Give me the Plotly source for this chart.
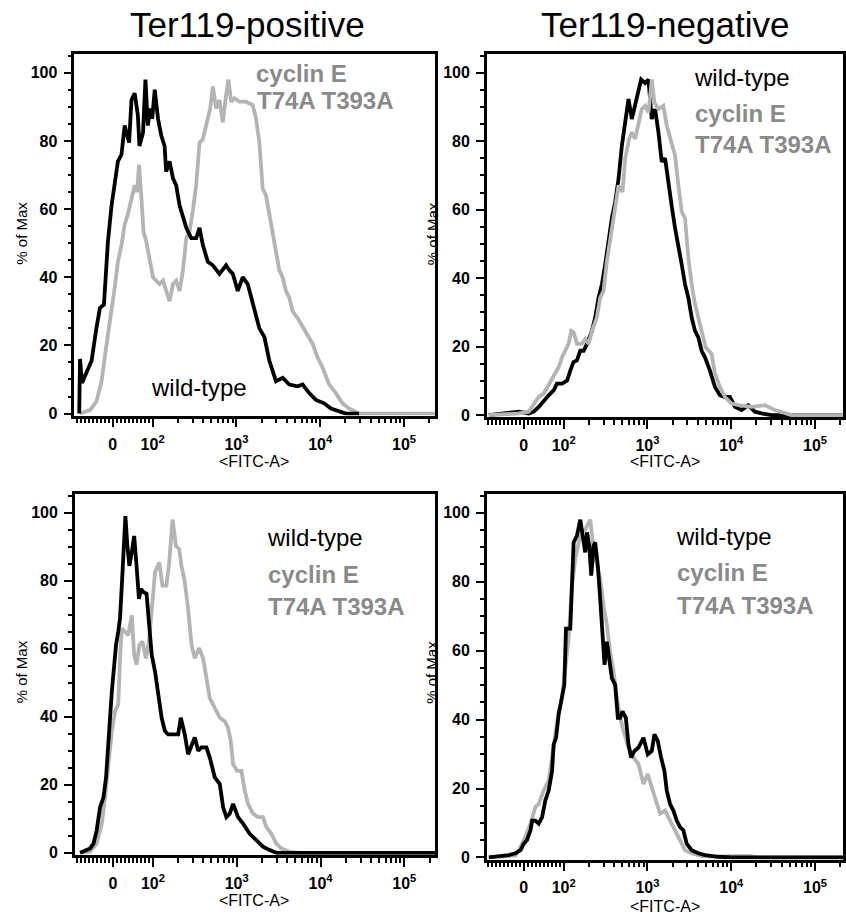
import numpy as np
import plotly.graph_objects as go

# ---------------- data (FITC-A intensity, % of Max) ----------------
# Ter119-positive, top row
tl_wt_x = [-84, -82, -77, -64, -53, -41, -32, -22, -16, -12, -3, 5, 13, 22, 30, 41, 47, 55, 63, 67,
           76, 82, 88, 94, 99, 106, 116, 127, 139, 145, 159, 175, 191, 210, 230, 252, 289, 331, 363, 397,
           456, 523, 628, 753, 825, 905, 1037, 1190, 1364, 1565, 1878, 2154, 2471, 2967, 3560, 4276, 5374, 6160, 7396, 8880,
           11160, 13400, 16840, 20200, 29000]
tl_wt_y = [0, 16, 9, 12.5, 15.5, 25, 31, 32, 45.5, 50.5, 61, 67, 74, 76, 84.5, 79.5, 92, 94, 87.5, 78.5,
           82.5, 98, 84.5, 89.5, 86.5, 95, 86.5, 81.5, 78.5, 71, 74, 69, 67, 61, 58, 54.5, 51.5, 51.5, 54.5, 49.5,
           44.5, 43.5, 41, 43.5, 42, 41, 36, 40, 38, 32, 25, 22.5, 15.5, 9.5, 10.5, 8.5, 8, 8.5, 6, 4,
           3, 1.5, 0.5, 0, 0]
tl_ce_x = [-82, -57, -41, -28, -20, -12, -3, 5, 13, 22, 30, 38, 47, 55, 61, 66, 72, 77, 84, 92,
           101, 110, 121, 133, 145, 159, 175, 191, 210, 230, 252, 276, 302, 331, 363, 397, 435, 486, 523, 573,
           628, 688, 753, 803, 864, 947, 1086, 1303, 1565, 1714, 1878, 2058, 2255, 2471, 2707, 2967, 3250, 3560, 3900, 4276,
           4684, 5374, 6160, 7060, 8100, 9290, 10660, 12800, 15360, 18450, 22100, 29100, 240000]
tl_ce_y = [0, 1, 3.5, 9.5, 16.5, 22.5, 30, 37, 44.5, 49.5, 55.5, 58.5, 63, 67, 65, 73, 63, 53.5, 50.5, 45.5,
           40, 39, 38, 39, 36, 33, 38, 39, 36, 42, 51.5, 53.5, 59.5, 67, 79.5, 80.5, 84.5, 89.5, 96, 89.5,
           92, 85.5, 93.5, 98, 91.5, 92.5, 91.5, 91.5, 90.5, 86.5, 79.5, 66, 64, 58.5, 53.5, 47.5, 42, 40, 36, 34,
           30, 28, 25.5, 23.5, 20.5, 16.5, 13.5, 8.5, 6, 3, 1.5, 0, 0]

# Ter119-negative, top row
tr_wt_x = [-87.5, -12.5, 12.5, 25, 37.5, 50, 62.5, 75, 83, 96, 110, 120, 131, 144, 158, 173, 190, 217, 238, 261,
           286, 313, 343, 376, 412, 452, 495, 542, 594, 651, 713, 781, 841, 938, 1028, 1126, 1234, 1352, 1481, 1623,
           1778, 1949, 2135, 2339, 2563, 2808, 3077, 3371, 3694, 4047, 4435, 4859, 5570, 6391, 7328, 8409, 9646, 11060, 13280, 15930,
           19130, 22960, 30200, 240000]
tr_wt_y = [0, 1, 0.5, 1, 2.4, 4.3, 5.8, 7.2, 9.2, 9.2, 10.1, 13, 15.5, 16, 18.8, 18.8, 20.8, 24.6, 28.5, 34.3,
           38.2, 44, 51.7, 57.5, 62.3, 69, 78.7, 85.5, 92.3, 86.5, 90.3, 94.2, 98, 97, 98, 86.5, 89.4, 82.6, 74, 75,
           67, 61, 54.6, 49.8, 44, 38.2, 34.3, 28.5, 24.6, 22.7, 18.8, 16.9, 13, 8.2, 5.8, 5.3, 5.3, 2.4, 1.5, 2.9,
           1, 0.5, 0, 0]
tr_ce_x = [-87.5, -12.5, 12.5, 25, 37.5, 50, 62.5, 75, 87.5, 96, 104.7, 114.7, 123, 131.5, 144, 165, 181, 198.5, 217.5, 249,
           273, 299, 328, 359, 394, 452, 504, 542, 605, 651, 713, 781, 856, 938, 1028, 1126, 1211, 1352, 1549, 1700,
           1949, 2135, 2339, 2563, 2808, 3077, 3371, 3694, 4047, 4435, 4945, 5833, 6391, 7328, 8409, 10090, 12120, 17460, 25160, 33110,
           43550, 52270, 240000]
tr_ce_y = [0, 0.5, 1, 3.4, 5.3, 6.3, 8.7, 11.1, 14, 16.9, 18.8, 20.8, 24.6, 24.2, 20.8, 20.8, 22.2, 20.8, 24.6, 28.5,
           34.3, 36.2, 44.9, 51.7, 58.5, 67.1, 65.2, 74.9, 80.7, 82.6, 80.7, 84.5, 89.4, 90.3, 88.4, 98, 91.3, 89.4, 90.3, 84.5,
           79.7, 75.8, 67.1, 59.4, 57.5, 45.9, 38.2, 32.4, 28.5, 24.6, 19.8, 17.9, 12.1, 8.2, 5.3, 3.4, 2.9, 2.4, 2.9, 1.5,
           0.5, 0, 0]

# Ter119-positive, bottom row
bl_wt_x = [-82.5, -70, -57.5, -49, -41, -32.5, -24, -17.5, -12, -7.5, -3, 1, 7.5, 13, 17.5, 22, 27.5, 31, 36, 41,
           47, 53, 59, 65, 70, 76, 84, 90, 97, 106, 116, 127, 139, 152, 175, 200, 215, 240, 263, 289,
           316, 347, 380, 435, 477, 547, 628, 688, 753, 825, 905, 1037, 1190, 1428, 1714, 2058, 2471, 2967, 240000]
bl_wt_y = [0, 0.8, 1.3, 2.7, 6.6, 13.4, 16.3, 22.2, 33.9, 39.7, 47.5, 53.3, 61.1, 65, 68.9, 78.6, 89.3, 99, 90.3, 84.4,
           88.3, 93.2, 84.4, 74.7, 77.6, 76.7, 76.2, 68.9, 58.2, 53.3, 46.5, 39.7, 35.8, 34.8, 34.8, 34.8, 39.7, 34.8, 29, 31.9,
           33.9, 30, 31, 31, 28, 22.2, 20.2, 13.4, 10.5, 11.5, 14.4, 10.5, 8.6, 5.6, 3.7, 1.8, 0.8, 0, 0]
bl_ce_x = [-82.5, -57.5, -41, -28, -20, -12, -3, 5, 13, 17.5, 22, 30, 38, 47, 53, 59, 66, 74, 82.5, 90,
           97, 106, 119, 130, 145, 156.5, 171.5, 188, 206, 219, 240, 263, 289, 316, 356, 397, 435, 477, 547, 628,
           720, 788, 848, 905, 1009, 1137, 1245, 1364, 1565, 1795, 2058, 2255, 2587, 2967, 3401, 4276, 5623, 240000]
bl_ce_y = [0, 0.3, 2.7, 8.6, 16.3, 26.1, 35.8, 41.6, 43.6, 57.2, 66, 65, 64, 69.8, 58.2, 55.3, 61.1, 62.1, 57.2, 62.1,
           71.8, 82.5, 85.4, 78.6, 78.6, 85.4, 98, 90.3, 89.3, 84.4, 79.6, 71.8, 61.1, 57.2, 60.2, 57.2, 51.4, 45.5, 42.6, 39.7,
           38.7, 36.8, 32.9, 26.1, 24.1, 24.1, 18.3, 14.4, 11.5, 10.5, 10.5, 7.6, 5.6, 2.7, 1.3, 0.3, 0, 0]

# Ter119-negative, bottom row
br_wt_x = [-87.5, -50, -37.5, -21, -8, 0, 8, 17, 21, 29, 37.5, 46, 54, 62.5, 71, 75, 81, 87.5, 96, 101.8,
           106.6, 120, 131.5, 144, 158, 168.4, 181, 190, 202, 213.5, 227.6, 238, 256, 273, 286, 307.6, 328, 349.8, 376, 412,
           443.5, 472.8, 504, 552, 594, 639, 700, 781, 896, 1009, 1126, 1211, 1327, 1455, 1594, 1700, 1862, 2040, 2235, 2448,
           2683, 2940, 3371, 4047, 4859, 7000, 10090, 240000]
br_wt_y = [0, 0.4, 0.7, 1.2, 2.1, 4, 5, 7.9, 10.7, 10.7, 9.8, 11.7, 16.5, 19.4, 25.1, 32.8, 34.7, 41.5, 46.3, 50.1,
           66.4, 66.4, 91.4, 93.3, 98, 93.3, 88.5, 94.3, 90.4, 81.8, 90.4, 91.4, 84.6, 75, 68.3, 55.9, 62.6, 56.8, 52, 50.1,
           40.5, 40.5, 42.4, 40.5, 32.8, 29, 30.9, 31.9, 34.7, 29.9, 30.9, 35.7, 33.8, 29, 25.1, 19.4, 15.5, 13.6, 10.7, 8.8,
           7.9, 4, 2.1, 1.2, 0.7, 0.2, 0, 0]
br_ce_x = [-87.5, -21, -8, 4, 17, 29, 37.5, 50, 62.5, 71, 79, 87.5, 96, 104.7, 114.7, 125.6, 137.7, 151, 165, 181,
           198.5, 207.8, 227.6, 249, 273, 299, 328, 359, 394, 431.5, 472.8, 518, 594, 681, 781, 896, 1009, 1126, 1257, 1415,
           1623, 1862, 2135, 2448, 2808, 3371, 4435, 7000, 10090, 17460, 20950, 240000]
br_ce_y = [0, 0.6, 3.1, 6, 9.8, 14.6, 15.5, 19.4, 22.3, 29, 34.7, 42.4, 46.3, 55.9, 63.5, 78.9, 86.6, 91.4, 94.2, 95.2,
           97.1, 98, 89.4, 85.6, 80.8, 73.1, 67.4, 59.7, 53.9, 46.3, 40.5, 36.7, 31.9, 29, 27.1, 21.3, 24.2, 20.3, 16.5, 12.7,
           13.6, 10.7, 7.9, 5, 2.1, 1.2, 0.4, 0.2, 0.4, 0.4, 0, 0]

column_titles = ["Ter119-positive", "Ter119-negative"]
series_names = ["wild-type", "cyclin E<br>T74A T393A"]
x_major_vals = [0, 100, 1000, 10000, 100000]
x_major_text = ["0", "10<sup>2</sup>", "10<sup>3</sup>", "10<sup>4</sup>", "10<sup>5</sup>"]
x_minor_vals = [-90, -80, -70, -60, -50, -40, -30, -20, -10, 10, 20, 30, 40, 50, 60, 70, 80, 90,
                200, 300, 400, 500, 600, 700, 800, 900, 2000, 3000, 4000, 5000, 6000, 7000, 8000, 9000,
                20000, 30000, 40000, 50000, 60000, 70000, 80000, 90000, 200000]
y_major_vals = [0, 20, 40, 60, 80, 100]
y_major_text = ["0", "20", "40", "60", "80", "100"]


# biexponential-style display transform: linear near zero, logarithmic above 100
def disp(v):
    v = np.asarray(v, dtype=float)
    return np.where(v < 100, v * 0.00476, 0.476 + np.log10(np.clip(v, 100, None) / 100))


W, H = 846, 924
BLACK = "#000000"
GREY_LINE = "#b4b4b4"
GREY_TEXT = "#8a8a8a"
FONT = "Liberation Sans, Arial, Helvetica, sans-serif"
PXU = 84.0  # px per display unit on x

# panel geometry in pixels: left, right, x-zero px, y-zero px, y-100 px, top
panels = [
    dict(n="", l=74.5, r=436, x0=113, y0=416.7, y100=73.3, top=54),
    dict(n="2", l=488, r=845, x0=525, y0=418.3, y100=73.3, top=54),
    dict(n="3", l=75, r=436, x0=113.3, y0=859.3, y100=516.7, top=497.3),
    dict(n="4", l=488, r=845, x0=525, y0=864, y100=516.7, top=497.3),
]
curves = [
    (tl_wt_x, tl_wt_y, tl_ce_x, tl_ce_y, "black_top"),
    (tr_wt_x, tr_wt_y, tr_ce_x, tr_ce_y, "grey_top"),
    (bl_wt_x, bl_wt_y, bl_ce_x, bl_ce_y, "black_top"),
    (br_wt_x, br_wt_y, br_ce_x, br_ce_y, "black_top"),
]

bold = lambda s: "<b>" + s + "</b>"

fig = go.Figure()
layout = {}
for p, (wx, wy, cx, cy, order) in zip(panels, curves):
    xa = "x" + p["n"]
    ya = "y" + p["n"]
    wt = go.Scatter(x=disp(wx), y=wy, mode="lines", line=dict(color=BLACK, width=3.8),
                    xaxis=xa, yaxis=ya, showlegend=False, hoverinfo="skip")
    ce = go.Scatter(x=disp(cx), y=cy, mode="lines", line=dict(color=GREY_LINE, width=3.8),
                    xaxis=xa, yaxis=ya, showlegend=False, hoverinfo="skip")
    if order == "black_top":
        fig.add_trace(ce)
        fig.add_trace(wt)
    else:
        fig.add_trace(wt)
        fig.add_trace(ce)

    sy = (p["y0"] - p["y100"]) / 100.0
    ylo = -0.6
    ybot_px = p["y0"] - ylo * sy
    ymax = (p["y0"] - p["top"]) / sy
    layout["xaxis" + p["n"]] = dict(
        domain=[p["l"] / W, p["r"] / W],
        range=[(p["l"] - p["x0"]) / PXU, (p["r"] - p["x0"]) / PXU],
        anchor=ya, showgrid=False, zeroline=False,
        showline=True, linecolor=BLACK, linewidth=2.5, mirror=True,
        tickmode="array", tickvals=list(disp(x_major_vals)), ticktext=[bold(t) for t in x_major_text],
        ticks="outside", ticklen=9, tickwidth=2, tickcolor=BLACK,
        ticklabelstandoff=3,
        tickfont=dict(family=FONT, size=16, color=BLACK),
        minor=dict(tickmode="array", tickvals=list(disp(x_minor_vals)), ticks="outside",
                   ticklen=5, tickwidth=1.5, tickcolor=BLACK, showgrid=False),
        fixedrange=True,
    )
    layout["yaxis" + p["n"]] = dict(
        domain=[1 - ybot_px / H, 1 - p["top"] / H],
        range=[ylo, ymax],
        anchor=xa, showgrid=False, zeroline=False,
        showline=True, linecolor=BLACK, linewidth=2.5, mirror=True,
        tickmode="array", tickvals=y_major_vals, ticktext=[bold(t) for t in y_major_text],
        ticks="outside", ticklen=8, tickwidth=2, tickcolor=BLACK,
        ticklabelstandoff=3,
        tickfont=dict(family=FONT, size=16, color=BLACK),
        minor=dict(dtick=5, tick0=0, ticks="outside", ticklen=4, tickwidth=1.5,
                   tickcolor=BLACK, showgrid=False),
        fixedrange=True,
    )

annotations = []


def ann(text, xpx, ypx, size, color=BLACK, is_bold=False, xanchor="center", angle=0):
    annotations.append(dict(
        text=bold(text) if is_bold else text, x=xpx / W, y=1 - ypx / H, xref="paper", yref="paper",
        xanchor=xanchor, yanchor="middle", showarrow=False, textangle=angle,
        font=dict(family=FONT, size=size, color=color),
    ))


# column titles
ann(column_titles[0], 248, 25, 35)
ann(column_titles[1], 666.5, 25, 35)

# axis titles
for xc, yc in [(21.5, 235), (433, 235), (21.5, 677), (433, 677)]:
    ann("% of Max", xc, yc, 15, angle=-90)
for xc, yc in [(255, 465), (667, 465), (255, 907), (667, 913)]:
    ann("&lt;FITC-A&gt;", xc, yc, 16)

wt_label, ce_label = series_names
ce1, ce2 = ce_label.split("<br>")
# top-left
ann(ce1, 255, 74, 24, GREY_TEXT, True, "left")
ann(ce2, 256, 101, 24, GREY_TEXT, True, "left")
ann(wt_label, 149, 390, 24, BLACK, False, "left")
# top-right
ann(wt_label, 694, 78, 24, BLACK, False, "left")
ann(ce1, 695, 114.5, 24, GREY_TEXT, True, "left")
ann(ce2, 695, 146, 24, GREY_TEXT, True, "left")
# bottom-left
ann(wt_label, 266, 542, 24, BLACK, False, "left")
ann(ce1, 267, 579, 24, GREY_TEXT, True, "left")
ann(ce2, 267, 611, 24, GREY_TEXT, True, "left")
# bottom-right
ann(wt_label, 676, 540.5, 24, BLACK, False, "left")
ann(ce1, 677, 577, 24, GREY_TEXT, True, "left")
ann(ce2, 677, 610, 24, GREY_TEXT, True, "left")

fig.update_layout(
    width=W, height=H, margin=dict(l=0, r=0, t=0, b=0),
    paper_bgcolor="white", plot_bgcolor="white",
    annotations=annotations, showlegend=False,
    **layout,
)

# remove the browser's default page margin so the figure sits at the window origin
fig.write_html("out.html", config={"displayModeBar": False},
               post_script="document.body.style.margin='0';document.body.style.padding='0';"
                           "document.documentElement.style.overflow='hidden';")
